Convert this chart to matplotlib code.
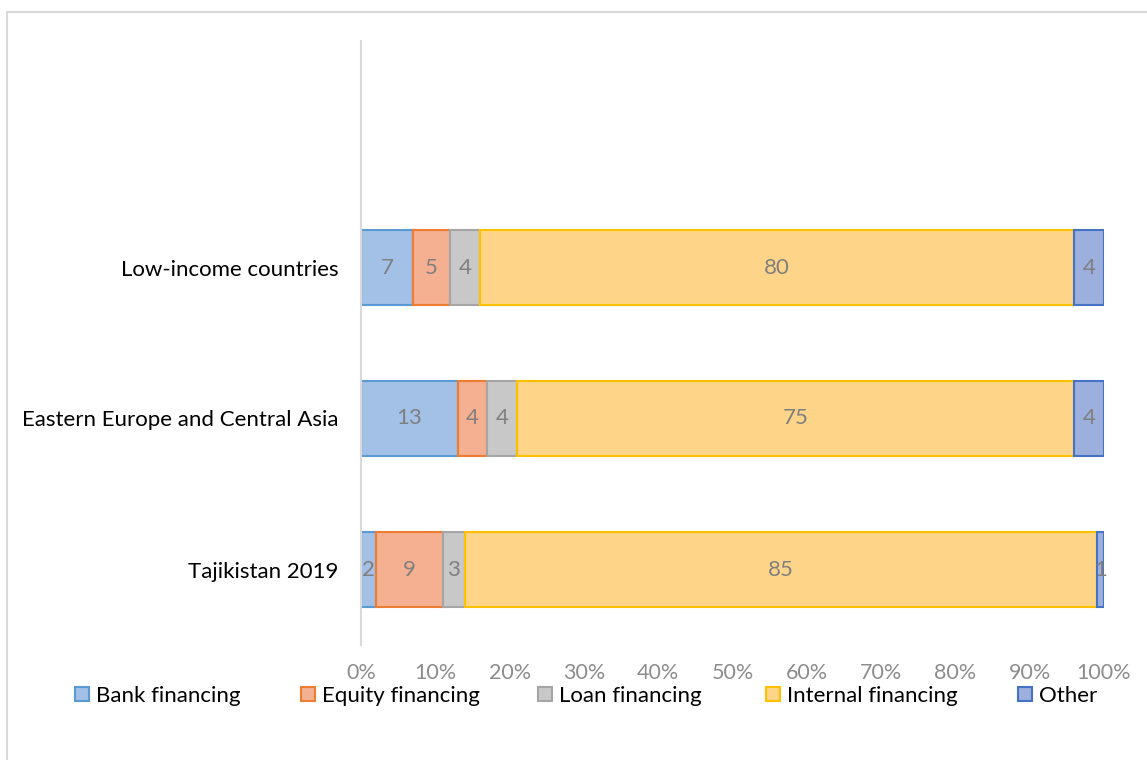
import numpy as np
import matplotlib
matplotlib.use("Agg")
import matplotlib.pyplot as plt
from matplotlib.patches import Rectangle
from matplotlib.lines import Line2D

plt.rcParams['font.family'] = ['Lato', 'DejaVu Sans']

# data (shares in %, bottom to top)
regions = ['Tajikistan 2019', 'Eastern Europe and Central Asia', 'Low-income countries']
sources = ['Bank financing', 'Equity financing', 'Loan financing', 'Internal financing', 'Other']
bank = [2, 13, 7]
equity = [9, 4, 5]
loan = [3, 4, 4]
internal = [85, 75, 80]
other = [1, 4, 4]

fills = ['#a3c0e6', '#f5b091', '#c8c8c8', '#fed588', '#9cafdd']
edges = ['#5b9bd5', '#ed7d31', '#a5a5a5', '#ffc000', '#4472c4']

fig = plt.figure(figsize=(11.47, 7.6), dpi=100)
ax = fig.add_axes([361 / 1147, 1 - 645 / 760, (1104 - 361) / 1147, (645 - 41) / 760])

y = np.arange(len(regions))
left = np.zeros(len(regions))
for vals, fc, ec in zip([bank, equity, loan, internal, other], fills, edges):
    vals = np.array(vals, dtype=float)
    bars = ax.barh(y, vals, left=left, height=0.5, color=fc, edgecolor=ec, linewidth=1.5)
    ax.bar_label(bars, labels=[str(int(v)) for v in vals], label_type='center',
                 color='#7f7f7f', fontsize=16)
    left += vals

ax.set_xlim(0, 100)
ax.set_ylim(-0.5, 3.5)
ax.set_yticks(y)
ax.set_yticklabels(regions, fontsize=16)
ax.set_xticks(np.arange(0, 101, 10))
ax.set_xticklabels([f'{v}%' for v in range(0, 101, 10)], fontsize=15.5, color='#8c8c8c')
ax.tick_params(axis='x', length=0, pad=13)
ax.tick_params(axis='y', length=0, pad=16)
for s in ['top', 'right', 'bottom']:
    ax.spines[s].set_visible(False)
ax.spines['left'].set_color('#d9d9d9')
ax.spines['left'].set_linewidth(1.5)

# legend, one entry per item like Excel's evenly spread layout
leg_x = [74, 300, 537, 765, 1017]
for name, fc, ec, lx in zip(sources, fills, edges, leg_x):
    h = Line2D([], [], marker='s', linestyle='none', markersize=10,
               markerfacecolor=fc, markeredgecolor=ec, markeredgewidth=1.5)
    lg = fig.legend([h], [name], loc='center left', bbox_to_anchor=(lx / 1147, 1 - 696 / 760),
                    frameon=False, fontsize=16, handlelength=0.7, handletextpad=0.3,
                    borderpad=0, borderaxespad=0)

# chart area border
fig.add_artist(Rectangle((7 / 1147, -0.2), 1.2, 1.2 - 12 / 760, transform=fig.transFigure,
                         fill=False, edgecolor='#d9d9d9', linewidth=1.5))

fig.savefig('out.png', dpi=100)
